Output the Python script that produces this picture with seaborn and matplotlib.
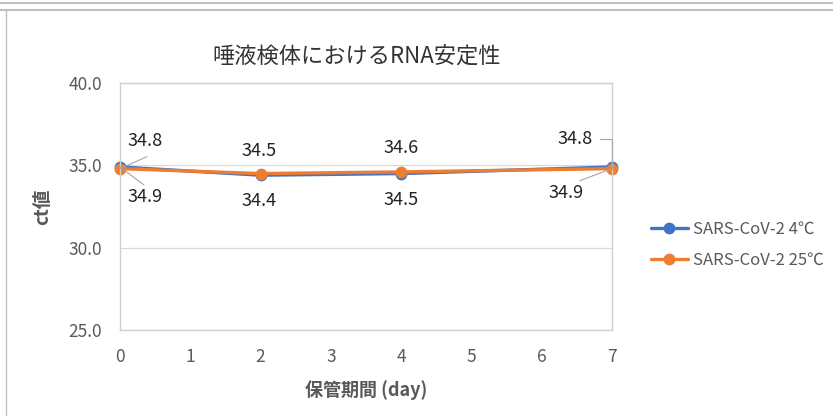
import matplotlib
matplotlib.use("Agg")
import matplotlib.pyplot as plt
from matplotlib.lines import Line2D
import seaborn as sns
import pandas as pd

days = [0, 2, 4, 7]
ct_4c = [34.9, 34.4, 34.5, 34.9]
ct_25c = [34.8, 34.5, 34.6, 34.8]
series_names = ["SARS-CoV-2 4℃", "SARS-CoV-2 25℃"]
colors = ["#4472C4", "#ED7D31"]

title = "唾液検体におけるRNA安定性"
xlabel = "保管期間 (day)"
ylabel = "ct値"
yticks = [25.0, 30.0, 35.0, 40.0]
xticks = [0, 1, 2, 3, 4, 5, 6, 7]

df = pd.DataFrame({
    "day": days * 2,
    "ct": ct_4c + ct_25c,
    "series": [series_names[0]] * len(days) + [series_names[1]] * len(days),
})

sns.set_theme(style="white")
plt.rcParams["font.family"] = ["Noto Sans CJK JP", "DejaVu Sans"]

fig = plt.figure(figsize=(8.33, 4.16), dpi=100)
W, H = 833, 416
ax = fig.add_axes([120 / W, 1 - 330 / H, (612 - 120) / W, (330 - 83) / H])

sns.lineplot(data=df, x="day", y="ct", hue="series", palette=colors,
             marker="o", markersize=8.5, markeredgewidth=0, linewidth=2.4,
             ax=ax, legend=False)

ax.set_xlim(0, 7)
ax.set_ylim(25, 40)
ax.set_xticks(xticks)
ax.set_yticks(yticks)
ax.set_xticklabels([str(t) for t in xticks])
ax.set_yticklabels([f"{t:.1f}" for t in yticks])
ax.tick_params(axis="both", length=0, labelsize=12.5, labelcolor="#595959")
ax.tick_params(axis="x", pad=13)
ax.tick_params(axis="y", pad=13)
ax.yaxis.grid(True, color="#D9D9D9", linewidth=0.9)
ax.set_axisbelow(True)
for s in ax.spines.values():
    s.set_color("#D0D0D0")
    s.set_linewidth(1.0)
for ln in ax.lines:
    ln.set_clip_on(False)

ax.set_xlabel(xlabel, fontsize=13, color="#595959", fontweight="bold", labelpad=10)
ax.set_ylabel(ylabel, fontsize=13.5, color="#595959", fontweight="bold", labelpad=12)
fig.text(357 / W, 1 - 57 / H, title, ha="center", va="center", fontsize=16, color="#333333")

# data labels: 25℃ values above, 4℃ values below
above_offsets = [(25, 28), (-2, 23), (0, 24), (-37, 30)]
below_offsets = [(25, -30), (-2, -26), (0, -26), (-46, -26)]
label_kw = dict(textcoords="offset pixels", ha="center", va="center", fontsize=13, color="#222222")
for i, d in enumerate(days):
    ax.annotate(f"{ct_25c[i]:.1f}", (d, ct_25c[i]), xytext=above_offsets[i], **label_kw)
    ax.annotate(f"{ct_4c[i]:.1f}", (d, ct_4c[i]), xytext=below_offsets[i], **label_kw)

# leader lines for the end labels
lead = dict(color="#A6A6A6", linewidth=0.8)
ax.annotate("", (0, ct_25c[0]), xytext=(27, 12), textcoords="offset pixels",
            arrowprops=dict(arrowstyle="-", shrinkA=0, shrinkB=0, **lead))
ax.annotate("", (0, ct_4c[0]), xytext=(24, -18), textcoords="offset pixels",
            arrowprops=dict(arrowstyle="-", shrinkA=0, shrinkB=0, **lead))
ax.annotate("", (7, ct_25c[3]), xytext=(-12, 30), textcoords="offset pixels",
            arrowprops=dict(arrowstyle="-", shrinkA=0, shrinkB=0,
                            connectionstyle="angle,angleA=0,angleB=90,rad=0", **lead))
ax.annotate("", (7, ct_25c[3]), xytext=(-32, -12), textcoords="offset pixels",
            arrowprops=dict(arrowstyle="-", shrinkA=0, shrinkB=0, **lead))

handles = [Line2D([0], [0], color=c, linewidth=2.4, marker="o", markersize=8.5,
                  markeredgewidth=0) for c in colors]
leg = fig.legend(handles, series_names, loc="center left",
                 bbox_to_anchor=(636 / W, 1 - 245 / H), frameon=False,
                 fontsize=12, labelcolor="#595959", handlelength=2.2,
                 handletextpad=0.3, labelspacing=0.85)

# chart area frame
fig.add_artist(Line2D([0, 1], [1 - 2.5 / H, 1 - 2.5 / H], color="#C0C0C0", linewidth=1.5))
fig.add_artist(Line2D([0, 1], [1 - 9.5 / H, 1 - 9.5 / H], color="#C0C0C0", linewidth=1.5))
fig.add_artist(Line2D([5.5 / W, 5.5 / W], [0, 1 - 9.5 / H], color="#C0C0C0", linewidth=1.0))

fig.savefig("out.png", dpi=100)
